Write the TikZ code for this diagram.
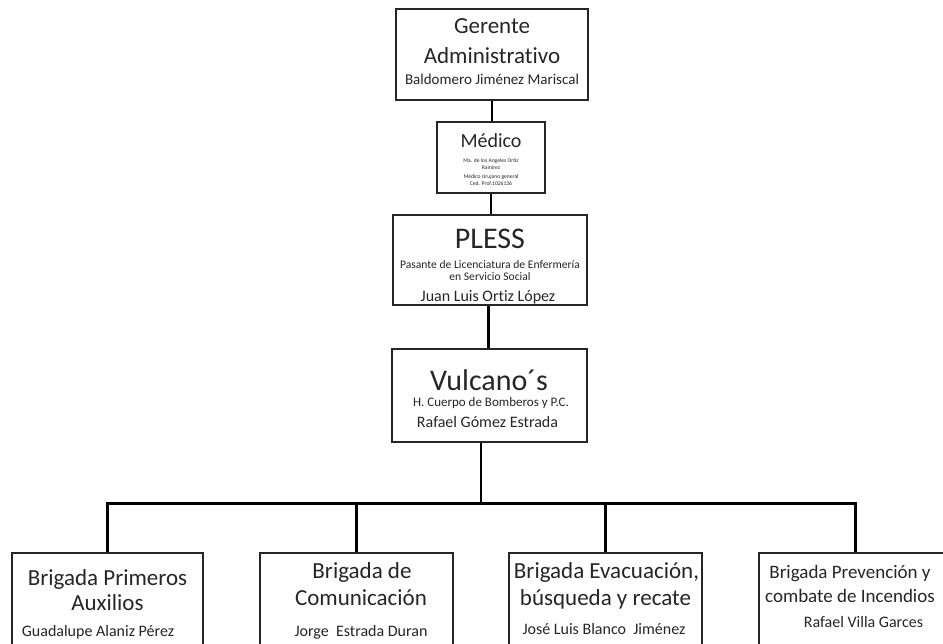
\documentclass[tikz,border=0pt]{standalone}
\usepackage{fontspec}
\setmainfont{Carlito}[Ligatures={NoCommon,NoRequired,NoContextual}]
\begin{document}
\begin{tikzpicture}[x=1pt,y=-1pt,
  box/.style={draw=black!85,line width=1.4pt,inner sep=0pt},
  link/.style={draw=black,line width=2.5pt},
  txt/.style={anchor=base,inner sep=0pt,text=black!85},
  ttl/.style={txt,font=\fontsize{23}{27}\selectfont},
  big/.style={txt,font=\fontsize{30}{34}\selectfont},
  nm/.style={txt,font=\fontsize{16}{19}\selectfont},
  sub/.style={txt,font=\fontsize{11.6}{14}\selectfont},
  tiny/.style={txt,font=\fontsize{5.6}{7}\selectfont}]
\useasboundingbox (0,0) rectangle (943,643);
\fill[white] (0,0) rectangle (943,643);
\clip (0,0) rectangle (943,643);

% boxes
\node[box,minimum width=192pt,minimum height=91pt] (g) at (492,54.5) {};
\node[box,minimum width=108pt,minimum height=71pt] (m) at (491,157.5) {};
\node[box,minimum width=194pt,minimum height=90pt] (p) at (490,260) {};
\node[box,minimum width=195pt,minimum height=93pt] (v) at (489.5,395.5) {};
\node[box,minimum width=191pt,minimum height=127pt] (b1) at (107.5,616.5) {};
\node[box,minimum width=193pt,minimum height=127pt] (b2) at (356.5,616.5) {};
\node[box,minimum width=193pt,minimum height=127pt] (b3) at (605.5,616.5) {};
\node[box,minimum width=193pt,minimum height=127pt] (b4) at (855.5,616.5) {};

% connectors
\draw[link] (g.south) -- (g.south |- m.north);
\draw[link] (m.south) -- (m.south |- p.north);
\draw[link] ([xshift=-1.5pt]p.south) -- ([xshift=-1.5pt]p.south |- v.north);
\draw[link] ([xshift=-8.5pt]v.south) -- ++(0,61) coordinate (hub);
\draw[link] (b1.north) -- (b1.north |- hub) -- (b4.north |- hub) -- (b4.north);
\draw[link] (b2.north) -- (b2.north |- hub);
\draw[link] (b3.north) -- (b3.north |- hub);

% Gerente
\node[ttl] (g1) at (492,33) {Gerente};
\node[ttl] (g2) at (492,63) {Administrativo};
\node[txt,font=\fontsize{15}{18}\selectfont] (g3) at (492,84) {Baldomero Jiménez Mariscal};

% Medico
\node[txt,font=\fontsize{20}{24}\selectfont] (m1) at (491,147) {Médico};
\node[tiny] (m2) at (491,162) {Ma. de los Angeles Ortiz};
\node[tiny] (m3) at (491,169) {Ramirez};
\node[tiny] (m4) at (491,178) {Médico cirujano general};
\node[tiny] (m5) at (491,185) {Ced. Prof.1026136};

% PLESS
\node[big] (p1) at (490,248) {PLESS};
\node[sub] (p2) at (490,268) {Pasante de Licenciatura de Enfermería};
\node[sub] (p3) at (490,280.5) {en Servicio Social};
\node[nm] (p4) at (488,301) {Juan Luis Ortiz López};

% Vulcano
\node[big] (v1) at (489,390) {Vulcano´s};
\node[txt,font=\fontsize{13}{16}\selectfont] (v2) at (491,406) {H. Cuerpo de Bomberos y P.C.};
\node[nm] (v3) at (487.5,427) {Rafael Gómez Estrada};

% Brigadas
\node[ttl] (a1) at (107.5,585) {Brigada Primeros};
\node[ttl] (a2) at (107.5,610) {Auxilios};
\node[nm] (a3) at (98,636) {Guadalupe Alaniz Pérez};

\node[ttl] (c1) at (362,578) {Brigada de};
\node[ttl] (c2) at (361,605) {Comunicación};
\node[nm] (c3) at (361,636) {Jorge\ \ Estrada Duran};

\node[ttl] (e1) at (606.5,578) {Brigada Evacuación,};
\node[ttl] (e2) at (605.5,605) {búsqueda y recate};
\node[nm] (e3) at (604,634) {José Luis Blanco\ \ Jiménez};

\node[txt,font=\fontsize{19}{23}\selectfont] (f1) at (850,578) {Brigada Prevención y};
\node[txt,font=\fontsize{19}{23}\selectfont] (f2) at (850,602) {combate de Incendios};
\node[nm] (f3) at (863.5,627) {Rafael Villa Garces};
\end{tikzpicture}
\end{document}
